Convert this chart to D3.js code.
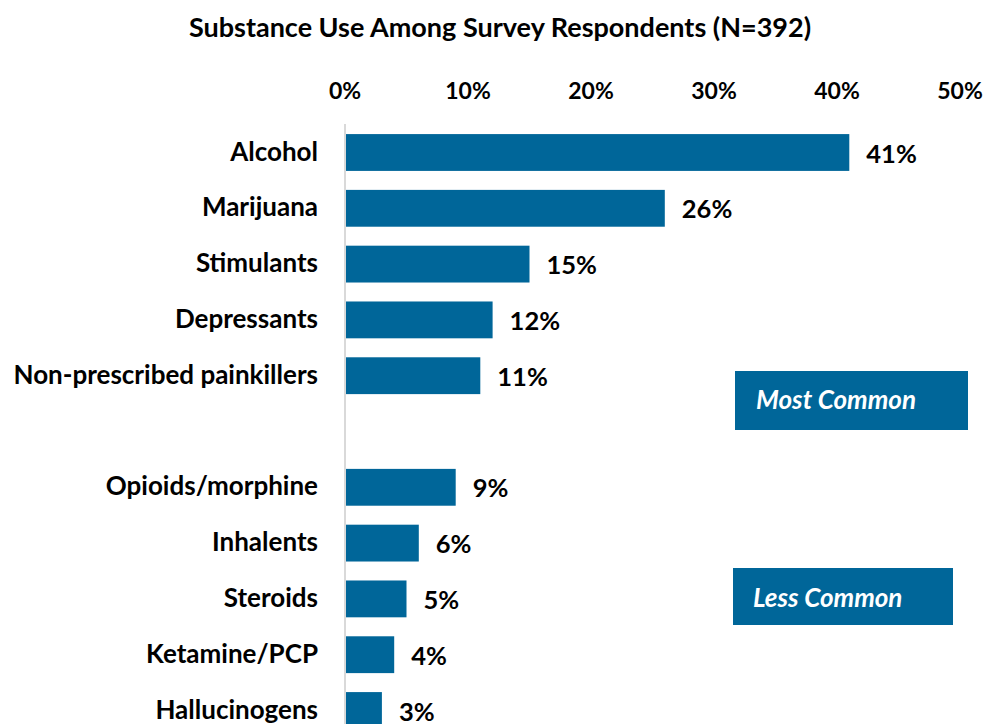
<!DOCTYPE html>
<html><head><meta charset="utf-8">
<script src="https://cdn.jsdelivr.net/npm/d3@7"></script>
<style>body{margin:0;background:#fff}svg{display:block}text{font-family:Lato,"Open Sans",sans-serif;font-weight:bold}</style>
</head><body><svg id="c" width="985" height="724"></svg>
<script>
const categories = ["Alcohol","Marijuana","Stimulants","Depressants","Non-prescribed painkillers","","Opioids/morphine","Inhalents","Steroids","Ketamine/PCP","Hallucinogens"];
const values = [41,26,15,12,11,null,9,6,5,4,3];
const tickValues = [0,10,20,30,40,50];
const title = "Substance Use Among Survey Respondents (N=392)";
const callouts = [{label:"Most Common"},{label:"Less Common"}];

const svg = d3.select("#c");
const color = "#006699";
const x = d3.scaleLinear().domain([0,50]).range([345,960]);
const y = d3.scaleBand().domain(categories.map((c,i)=>i)).range([124.6,738.4]).paddingInner(0.34).paddingOuter(0.17);

svg.append("text").attr("x",500).attr("y",37).attr("text-anchor","middle").attr("font-size",27).attr("fill","#000").text(title);

svg.append("g").selectAll("text").data(tickValues).join("text")
  .attr("x",d=>x(d)).attr("y",99).attr("text-anchor","middle").attr("font-size",23).attr("fill","#000").text(d=>d+"%");

svg.append("line").attr("x1",x(0)).attr("x2",x(0)).attr("y1",124).attr("y2",724).attr("stroke","#d9d9d9").attr("stroke-width",2);

const data = categories.map((c,i)=>({c,i,v:values[i]})).filter(d=>d.v!=null);
svg.append("g").selectAll("rect").data(data).join("rect")
  .attr("x",x(0)+1).attr("y",d=>y(d.i)).attr("width",d=>x(d.v)-x(0)-1).attr("height",y.bandwidth()).attr("fill",color);

svg.append("g").selectAll("text").data(data).join("text")
  .attr("x",d=>x(d.v)+17).attr("y",d=>y(d.i)+y.bandwidth()/2+10).attr("font-size",25.5).attr("fill","#000").text(d=>d.v+"%");

svg.append("g").selectAll("text").data(data).join("text")
  .attr("x",318).attr("y",d=>y(d.i)+y.bandwidth()/2+8).attr("text-anchor","end").attr("font-size",26).attr("fill","#000").text(d=>d.c);

const boxes = [{x:735,y:371,w:233,h:59,tx:756,ty:409},{x:733,y:568,w:220,h:57,tx:753,ty:607}];
boxes.forEach((b,i)=>{
  svg.append("rect").attr("x",b.x).attr("y",b.y).attr("width",b.w).attr("height",b.h).attr("fill",color);
  svg.append("text").attr("x",b.tx).attr("y",b.ty).attr("font-size",26).attr("font-style","italic").attr("fill","#fff").text(callouts[i].label);
});
</script></body></html>
